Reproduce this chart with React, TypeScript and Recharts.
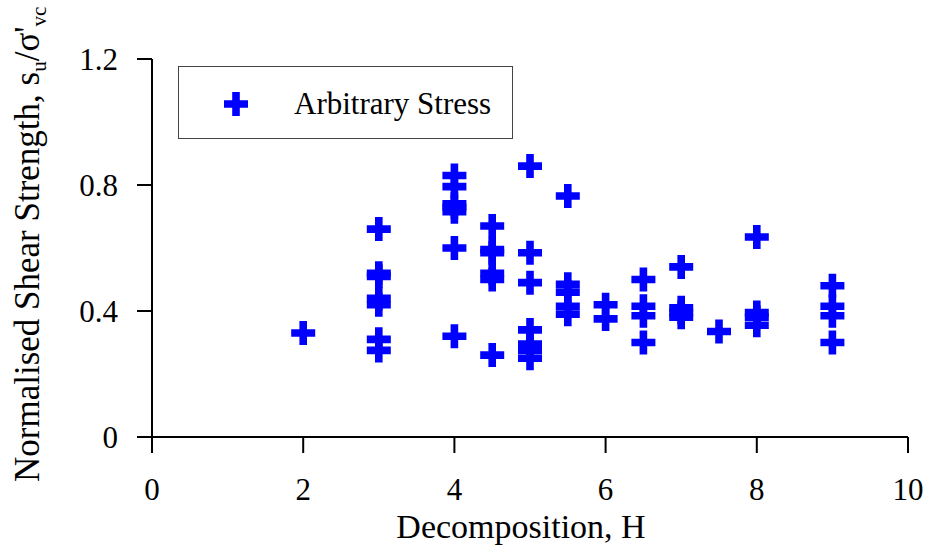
import { Legend, Scatter, ScatterChart, XAxis, YAxis } from "recharts";

// Normalised shear strength vs. decomposition (von Post H), one series.

const seriesName = "Arbitrary Stress";
const xTicks = [0, 2, 4, 6, 8, 10];
const yTicks = [0, 0.4, 0.8, 1.2];

const decomposition = [
  2,
  3, 3, 3, 3, 3, 3, 3,
  4, 4, 4, 4, 4, 4, 4,
  4.5, 4.5, 4.5, 4.5, 4.5, 4.5,
  5, 5, 5, 5, 5, 5, 5,
  5.5, 5.5, 5.5, 5.5, 5.5,
  6, 6,
  6.5, 6.5, 6.5, 6.5,
  7, 7, 7, 7,
  7.5,
  8, 8, 8, 8,
  9, 9, 9, 9,
];

const strengthRatio = [
  0.33,
  0.66, 0.52, 0.51, 0.44, 0.42, 0.31, 0.275,
  0.83, 0.795, 0.74, 0.73, 0.715, 0.6, 0.32,
  0.67, 0.595, 0.585, 0.52, 0.5, 0.26,
  0.86, 0.585, 0.49, 0.34, 0.295, 0.275, 0.25,
  0.765, 0.485, 0.46, 0.415, 0.39,
  0.42, 0.375,
  0.5, 0.415, 0.385, 0.3,
  0.54, 0.41, 0.395, 0.38,
  0.335,
  0.635, 0.395, 0.38, 0.355,
  0.48, 0.415, 0.385, 0.3,
];

const points = decomposition.map((h, i) => ({ h, s: strengthRatio[i] }));

const FONT = '"Liberation Serif", "Times New Roman", serif';
const BLUE = "#0000ff";

function plusPath(cx: number, cy: number) {
  const a = 12;
  const t = 3.8;
  return `M${cx - t},${cy - a}H${cx + t}V${cy - t}H${cx + a}V${cy + t}H${cx + t}V${cy + a}H${cx - t}V${cy + t}H${cx - a}V${cy - t}H${cx - t}Z`;
}

function PlusMark(props: any) {
  const { cx, cy } = props;
  if (cx == null || cy == null) return null;
  return <path d={plusPath(cx, cy)} fill={BLUE} />;
}

function XTick({ x, y, payload }: any) {
  return (
    <text x={x} y={y + 47} textAnchor="middle" fontFamily={FONT} fontSize={31} fill="#000">
      {payload.value}
    </text>
  );
}

function YTick({ x, y, payload }: any) {
  return (
    <text x={x} y={y + 11} textAnchor="end" fontFamily={FONT} fontSize={31} fill="#000">
      {payload.value}
    </text>
  );
}

function LegendBox() {
  return (
    <div
      style={{
        width: 335,
        height: 73,
        boxSizing: "border-box",
        border: "1.3px solid #444",
        background: "#fff",
      }}
    >
      <svg width={333} height={71}>
        <path d={plusPath(57, 37)} fill={BLUE} />
        <text x={115} y={47} fontFamily={FONT} fontSize={31} fill="#000">
          {seriesName}
        </text>
      </svg>
    </div>
  );
}

export default function App() {
  return (
    <div style={{ position: "absolute", left: 0, top: 0, width: 932, height: 551, background: "#fff" }}>
      <ScatterChart width={932} height={551} margin={{ top: 59, right: 24, bottom: 0, left: 0 }}>
        <XAxis
          type="number"
          dataKey="h"
          domain={[0, 10]}
          ticks={xTicks}
          height={114}
          tickSize={16}
          tickMargin={0}
          tick={<XTick />}
          axisLine={{ stroke: "#000", strokeWidth: 2 }}
          tickLine={{ stroke: "#000", strokeWidth: 2 }}
          label={{
            content: () => (
              <text x={521} y={538} textAnchor="middle" fontFamily={FONT} fontSize={34} fill="#000">
                Decomposition, H
              </text>
            ),
          }}
        />
        <YAxis
          type="number"
          dataKey="s"
          domain={[0, 1.2]}
          ticks={yTicks}
          width={152}
          tickSize={15}
          tickMargin={19}
          tick={<YTick />}
          axisLine={{ stroke: "#000", strokeWidth: 2 }}
          tickLine={{ stroke: "#000", strokeWidth: 2 }}
          label={{
            content: () => (
              <text
                transform="translate(39,482) rotate(-90)"
                x={0}
                y={0}
                textAnchor="start"
                fontFamily={FONT}
                fontSize={35}
                fill="#000"
              >
                Normalised Shear Strength, s
                <tspan fontSize={21} dy={7}>u</tspan>
                <tspan fontSize={35} dy={-7}>/σ'</tspan>
                <tspan fontSize={21} dy={7}>vc</tspan>
              </text>
            ),
          }}
        />
        <Legend
          layout="horizontal"
          verticalAlign="middle"
          align="center"
          wrapperStyle={{ left: 178, top: 66, width: 335, height: 73 }}
          content={() => <LegendBox />}
        />
        <Scatter name={seriesName} data={points} shape={<PlusMark />} isAnimationActive={false} />
      </ScatterChart>
    </div>
  );
}
